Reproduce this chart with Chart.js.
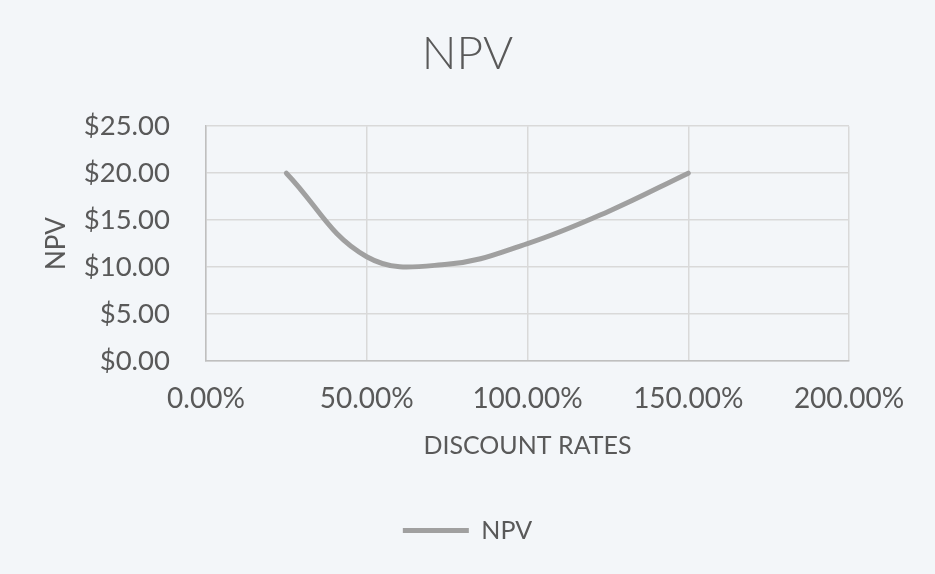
<!DOCTYPE html>
<html>
<head>
<meta charset="utf-8">
<script src="https://cdn.jsdelivr.net/npm/chart.js@4"></script>
<style>
  body { margin: 0; background: #f3f6f9; }
  #wrap { width: 935px; height: 574px; position: relative; }
</style>
</head>
<body>
<div id="wrap"><canvas id="myChart"></canvas></div>
<script>
// discount rates (x) and NPV values
const rates = [0.25, 0.5, 0.75, 1.0, 1.25, 1.5];
const npv = [20, 11.1, 10.3, 12.5, 15.9, 20];
const xTicks = [0, 0.5, 1.0, 1.5, 2.0];
const yTicks = [0, 5, 10, 15, 20, 25];

const textColor = '#595959';
const lineColor = '#a0a0a0';
const fontFamily = 'Lato, "Open Sans", sans-serif';

let ctx = document.getElementById('myChart').getContext('2d');

let points = rates.map(function (r, i) {
    return { x: r, y: npv[i] };
});

let chart = new Chart(ctx, {
    type: 'line',
    data: {
        datasets: [{
            label: 'NPV',
            data: points,
            borderColor: lineColor,
            backgroundColor: lineColor,
            borderWidth: 5,
            borderCapStyle: 'round',
            pointRadius: 0,
            pointStyle: 'line',
            tension: 0.4,
            fill: false
        }]
    },
    options: {
        responsive: true,
        maintainAspectRatio: false,
        animation: false,
        layout: { padding: { top: 0, left: 0, right: 0, bottom: 21 } },
        plugins: {
            title: {
                display: true,
                text: 'NPV',
                color: textColor,
                font: { family: fontFamily, size: 46, weight: '300' },
                padding: { top: 27, bottom: 44 }
            },
            legend: {
                position: 'bottom',
                labels: {
                    color: textColor,
                    font: { family: fontFamily, size: 25 },
                    usePointStyle: true,
                    pointStyleWidth: 66,
                    padding: 10
                }
            },
            tooltip: { enabled: false }
        },
        scales: {
            x: {
                type: 'linear',
                min: 0,
                max: 2,
                afterBuildTicks: function (s) {
                    s.ticks = xTicks.map(function (v) { return { value: v }; });
                },
                ticks: {
                    color: textColor,
                    font: { family: fontFamily, size: 28 },
                    padding: 21,
                    maxRotation: 0,
                    callback: function (v) { return (v * 100).toFixed(2) + '%'; }
                },
                grid: { color: '#d9d9d9', lineWidth: 1.5, drawTicks: false },
                border: { color: '#bfbfbf', width: 1.5 },
                title: {
                    display: true,
                    text: 'DISCOUNT RATES',
                    color: textColor,
                    font: { family: fontFamily, size: 25 },
                    padding: { top: 0, bottom: 47 }
                },
                afterFit: function (s) { s.height = 147; }
            },
            y: {
                min: 0,
                max: 25,
                afterBuildTicks: function (s) {
                    s.ticks = yTicks.map(function (v) { return { value: v }; });
                },
                ticks: {
                    color: textColor,
                    font: { family: fontFamily, size: 27.5 },
                    padding: 36,
                    callback: function (v) { return '$' + v.toFixed(2); }
                },
                grid: { color: '#d9d9d9', lineWidth: 1.5, drawTicks: false },
                border: { color: '#bfbfbf', width: 1.5 },
                title: {
                    display: true,
                    text: 'NPV',
                    color: textColor,
                    font: { family: fontFamily, size: 26 },
                    padding: { top: 41, bottom: 0 }
                },
                afterFit: function (s) { s.width = 206; }
            },
            // empty right-hand axis only to leave room on the right like the original
            y2: {
                position: 'right',
                min: 0,
                max: 25,
                grid: { display: false },
                border: { display: false },
                ticks: { display: false },
                afterFit: function (s) { s.width = 86; }
            }
        }
    }
});
</script>
</body>
</html>
